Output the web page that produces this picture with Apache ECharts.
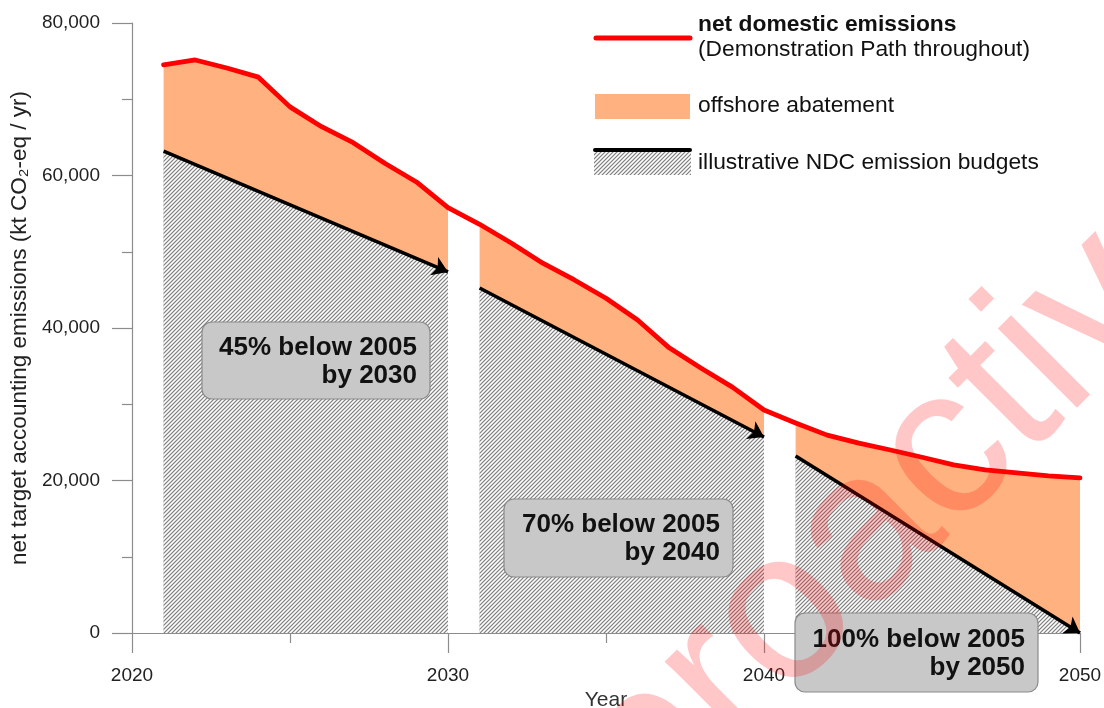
<!DOCTYPE html>
<html>
<head>
<meta charset="utf-8">
<script src="https://cdn.jsdelivr.net/npm/echarts@6/dist/echarts.min.js"></script>
<style>
html, body { margin: 0; padding: 0; background: #fff; }
#chart { width: 1104px; height: 708px; }
</style>
</head>
<body>
<div id="chart"></div>
<script>
// years and net domestic emissions (kt CO2-eq / yr)
var years = [2021, 2022, 2023, 2024, 2025, 2026, 2027, 2028, 2029, 2030,
  2031, 2032, 2033, 2034, 2035, 2036, 2037, 2038, 2039, 2040,
  2041, 2042, 2043, 2044, 2045, 2046, 2047, 2048, 2049, 2050]
var netDomestic = [74500, 75150, 74100, 72900, 69000, 66400, 64300, 61600, 59150, 55800,
  53600, 51150, 48500, 46300, 43900, 41050, 37400, 34750, 32250, 29250,
  27550, 25950, 24900, 24000, 23050, 22050, 21400, 21000, 20600, 20350]

// NDC budget periods: first year / last year, budget at start and at end
var periodStart = [2021, 2031, 2041]
var periodEnd = [2030, 2040, 2050]
var budgetStart = [63200, 45250, 23200]
var budgetEnd = [47350, 25700, 0]
var targetText = [['45% below 2005', 'by 2030'], ['70% below 2005', 'by 2040'], ['100% below 2005', 'by 2050']]

var yMin = 0, yMax = 80000, yStep = 20000
var xMin = 2020, xMax = 2050, xStep = 10

var FONT = '"Liberation Sans", Arial, sans-serif'
var ORANGE = '#ffb27f'
var AXIS = '#8c8c8c'

// diagonal hatch pattern
function makeHatch() {
  var c = document.createElement('canvas')
  c.width = 4
  c.height = 4
  var ctx = c.getContext('2d')
  ctx.fillStyle = '#ffffff'
  ctx.fillRect(0, 0, 4, 4)
  for (var x = 0; x < 4; x++) {
    for (var y = 0; y < 4; y++) {
      var k = (x + y) % 4
      if (k === 0) {
        ctx.fillStyle = '#838383'
        ctx.fillRect(x, y, 1, 1)
      } else if (k === 1 || k === 3) {
        ctx.fillStyle = '#d3d3d3'
        ctx.fillRect(x, y, 1, 1)
      }
    }
  }
  return c
}
var hatch = {image: makeHatch(), repeat: 'repeat'}

function pointsBetween(from, to) {
  var out = []
  years.forEach(function (y, i) {
    if (y >= from && y <= to) out.push([y, netDomestic[i]])
  })
  return out
}

var series = []
periodStart.forEach(function (s, i) {
  // offshore abatement (area under the red line, covered below by the budget)
  series.push({
    type: 'line',
    data: pointsBetween(s, periodEnd[i]),
    symbol: 'none',
    silent: true,
    z: 2,
    lineStyle: {width: 0},
    areaStyle: {color: ORANGE, opacity: 1}
  })
  // NDC emission budget
  series.push({
    type: 'line',
    data: [[s, budgetStart[i]], [periodEnd[i], budgetEnd[i]]],
    symbol: 'none',
    silent: true,
    z: 3,
    lineStyle: {width: 0},
    areaStyle: {color: hatch, opacity: 1},
    markLine: {
      silent: true,
      symbol: ['none', 'arrow'],
      symbolSize: 15,
      label: {show: false},
      lineStyle: {color: '#000', width: 3.5, type: 'solid'},
      data: [[{coord: [s, budgetStart[i]]}, {coord: [periodEnd[i], budgetEnd[i]]}]]
    }
  })
})
series.push({
  type: 'line',
  data: pointsBetween(xMin, xMax),
  symbol: 'none',
  silent: true,
  z: 6,
  lineStyle: {color: '#ff0000', width: 4.8, cap: 'round', join: 'round'}
})

// annotation boxes (pixel layout)
var boxes = [
  {x: 202, y: 322, w: 228, h: 77},
  {x: 504, y: 499, w: 229, h: 78},
  {x: 795, y: 613, w: 243, h: 79}
]
var graphic = []
boxes.forEach(function (b, i) {
  graphic.push({
    type: 'rect', z: 100, silent: true,
    shape: {x: b.x, y: b.y, width: b.w, height: b.h, r: 10},
    style: {fill: '#c8c8c8', stroke: '#8a8a8a', lineWidth: 1.2}
  })
  graphic.push({
    type: 'text', z: 101, silent: true,
    x: b.x + b.w - 13, y: b.y + b.h / 2 + 1,
    style: {
      text: targetText[i].join('\n'), align: 'right', verticalAlign: 'middle',
      font: 'bold 26px ' + FONT, lineHeight: 28, fill: '#111'
    }
  })
})

// legend
var LEG = '22.8px ' + FONT
graphic.push(
  {type: 'line', z: 100, silent: true, shape: {x1: 596, y1: 38, x2: 690, y2: 38},
    style: {stroke: '#ff0000', lineWidth: 5, lineCap: 'round'}},
  {type: 'text', z: 100, silent: true, x: 698, y: 25,
    style: {text: 'net domestic emissions', font: 'bold ' + LEG, fill: '#111', verticalAlign: 'middle'}},
  {type: 'text', z: 100, silent: true, x: 698, y: 50,
    style: {text: '(Demonstration Path throughout)', font: LEG, fill: '#111', verticalAlign: 'middle'}},
  {type: 'rect', z: 100, silent: true, shape: {x: 595, y: 94, width: 95, height: 25},
    style: {fill: ORANGE}},
  {type: 'text', z: 100, silent: true, x: 698, y: 106,
    style: {text: 'offshore abatement', font: LEG, fill: '#111', verticalAlign: 'middle'}},
  {type: 'rect', z: 100, silent: true, shape: {x: 594, y: 151, width: 97, height: 24},
    style: {fill: hatch}},
  {type: 'line', z: 101, silent: true, shape: {x1: 595, y1: 150, x2: 690, y2: 150},
    style: {stroke: '#000', lineWidth: 4, lineCap: 'round'}},
  {type: 'text', z: 100, silent: true, x: 698, y: 163,
    style: {text: 'illustrative NDC emission budgets', font: LEG, fill: '#111', verticalAlign: 'middle'}}
)

// watermark
graphic.push({
  type: 'text', z: 200, silent: true,
  x: 684, y: 868, rotation: Math.PI / 4,
  style: {text: 'proactiv', font: '212px ' + FONT, fill: 'rgba(255, 0, 0, 0.22)', verticalAlign: 'bottom'}
})

var myChart = echarts.init(document.getElementById('chart'))
var option = {
  animation: false,
  backgroundColor: '#fff',
  textStyle: {fontFamily: FONT},
  grid: {left: 132, right: 24, top: 23, bottom: 75, outerBoundsMode: 'none'},
  xAxis: {
    type: 'value',
    min: xMin,
    max: xMax,
    interval: xStep,
    name: 'Year',
    nameLocation: 'middle',
    nameGap: 54,
    nameTextStyle: {fontSize: 21, color: '#333', fontFamily: FONT},
    axisLine: {show: true, onZero: false, lineStyle: {color: AXIS, width: 1.2}},
    axisTick: {show: true, length: 20, lineStyle: {color: AXIS, width: 1.2}},
    minorTick: {show: true, splitNumber: 2, length: 10, lineStyle: {color: AXIS, width: 1.2}},
    axisLabel: {
      fontSize: 19, color: '#222', margin: 33, fontFamily: FONT,
      formatter: function (v) { return String(v) }
    },
    splitLine: {show: false}
  },
  yAxis: {
    type: 'value',
    min: yMin,
    max: yMax,
    interval: yStep,
    name: 'net target accounting emissions (kt CO₂-eq / yr)',
    nameLocation: 'middle',
    nameRotate: 90,
    nameGap: 101,
    nameTextStyle: {fontSize: 22.5, color: '#222', fontFamily: FONT},
    axisLine: {show: true, lineStyle: {color: AXIS, width: 1.2}},
    axisTick: {show: true, length: 20, lineStyle: {color: AXIS, width: 1.2}},
    minorTick: {show: true, splitNumber: 2, length: 10, lineStyle: {color: AXIS, width: 1.2}},
    axisLabel: {
      fontSize: 19, color: '#222', margin: 32, fontFamily: FONT,
      formatter: function (v) { return v.toLocaleString('en-US') }
    },
    splitLine: {show: false}
  },
  series: series,
  graphic: graphic
}
myChart.setOption(option)
</script>
</body>
</html>
